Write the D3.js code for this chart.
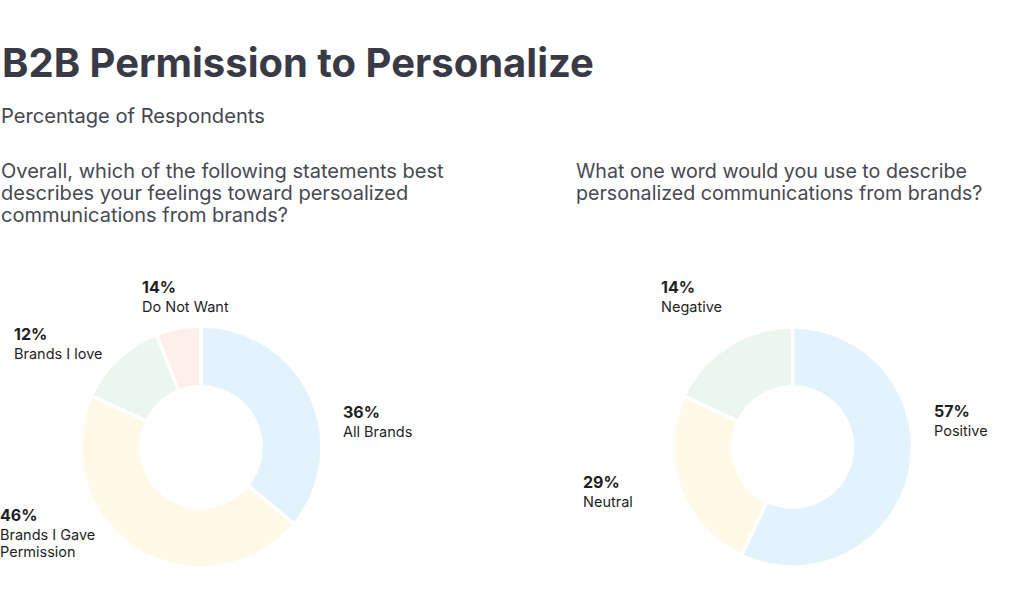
<!DOCTYPE html>
<html>
<head>
<meta charset="utf-8">
<script src="https://cdn.jsdelivr.net/npm/d3@7"></script>
<style>
  html, body { margin: 0; padding: 0; background: #ffffff; }
  svg { display: block; font-family: Inter, "Noto Sans", sans-serif; }
</style>
</head>
<body>
<svg id="chart" width="1024" height="614"></svg>
<script>
// ---- data ----
const title = "B2B Permission to Personalize";
const subtitle = "Percentage of Respondents";
const leftQuestion = ["Overall, which of the following statements best", "describes your feelings toward persoalized", "communications from brands?"];
const rightQuestion = ["What one word would you use to describe", "personalized communications from brands?"];

const leftCategories = ["All Brands", "Brands I Gave Permission", "Brands I love", "Do Not Want"];
const leftValues = [36, 46, 12, 6];              // slice sizes as drawn
const leftLabels = ["36%", "46%", "12%", "14%"];  // label text as printed
const leftNameLines = [["All Brands"], ["Brands I Gave", "Permission"], ["Brands I love"], ["Do Not Want"]];

const rightCategories = ["Positive", "Neutral", "Negative"];
const rightValues = [57, 25, 18];
const rightLabels = ["57%", "29%", "14%"];
const rightNameLines = [["Positive"], ["Neutral"], ["Negative"]];

// ---- styling / layout ----
const leftColors = ["#e3f3fd", "#fff9e8", "#eaf6ee", "#fdf0ea"];
const rightColors = ["#e3f3fd", "#fff9e8", "#eaf6ee"];
const leftLabelPos = [[343, 418], [0, 521], [14, 340], [142, 293]];
const rightLabelPos = [[934, 417], [583, 488], [661, 293]];

const svg = d3.select("#chart");

function fitText(sel, targetWidth) {
  const w = sel.node().getComputedTextLength();
  const fs = parseFloat(sel.attr("font-size"));
  sel.attr("font-size", (fs * targetWidth / w).toFixed(2));
  return fs * targetWidth / w;
}

const t = svg.append("text").attr("x", 2).attr("y", 77)
  .attr("font-size", 37).attr("font-weight", 700).attr("fill", "#383a45").text(title);
fitText(t, 592);

const st = svg.append("text").attr("x", 1).attr("y", 123)
  .attr("font-size", 19).attr("fill", "#454751").text(subtitle);
fitText(st, 264);

function question(lines, x, y0, targetFirst) {
  const g = svg.append("g");
  const texts = lines.map((l, i) => g.append("text").attr("x", x).attr("y", y0 + i * 21.8)
    .attr("font-size", 20).attr("fill", "#474952").text(l));
  const w = texts[0].node().getComputedTextLength();
  const fs = 20 * targetFirst / w;
  texts.forEach(s => s.attr("font-size", fs.toFixed(2)));
}
question(leftQuestion, 1, 178, 443);
question(rightQuestion, 576, 178, 391);

function donut(values, colors, cx, cy, R, r, labels, nameLines, pos) {
  const pie = d3.pie().sort(null).value(d => d)(values);
  const arc = d3.arc().innerRadius(r).outerRadius(R);
  const g = svg.append("g").attr("transform", `translate(${cx},${cy})`);
  g.selectAll("path").data(pie).join("path")
    .attr("d", arc)
    .attr("fill", (d, i) => colors[i])
    .attr("stroke", "#ffffff").attr("stroke-width", 3.5).attr("stroke-linejoin", "miter");
  labels.forEach((lab, i) => {
    const [x, y] = pos[i];
    svg.append("text").attr("x", x).attr("y", y)
      .attr("font-size", 16).attr("font-weight", 700).attr("fill", "#1e1f24").text(lab);
    nameLines[i].forEach((ln, j) => {
      svg.append("text").attr("x", x).attr("y", y + 19 + j * 16.5)
        .attr("font-size", 14.5).attr("fill", "#1e1f24").text(ln);
    });
  });
}

donut(leftValues, leftColors, 201, 447, 121, 60, leftLabels, leftNameLines, leftLabelPos);
donut(rightValues, rightColors, 792.5, 447, 120, 60, rightLabels, rightNameLines, rightLabelPos);
</script>
</body>
</html>
